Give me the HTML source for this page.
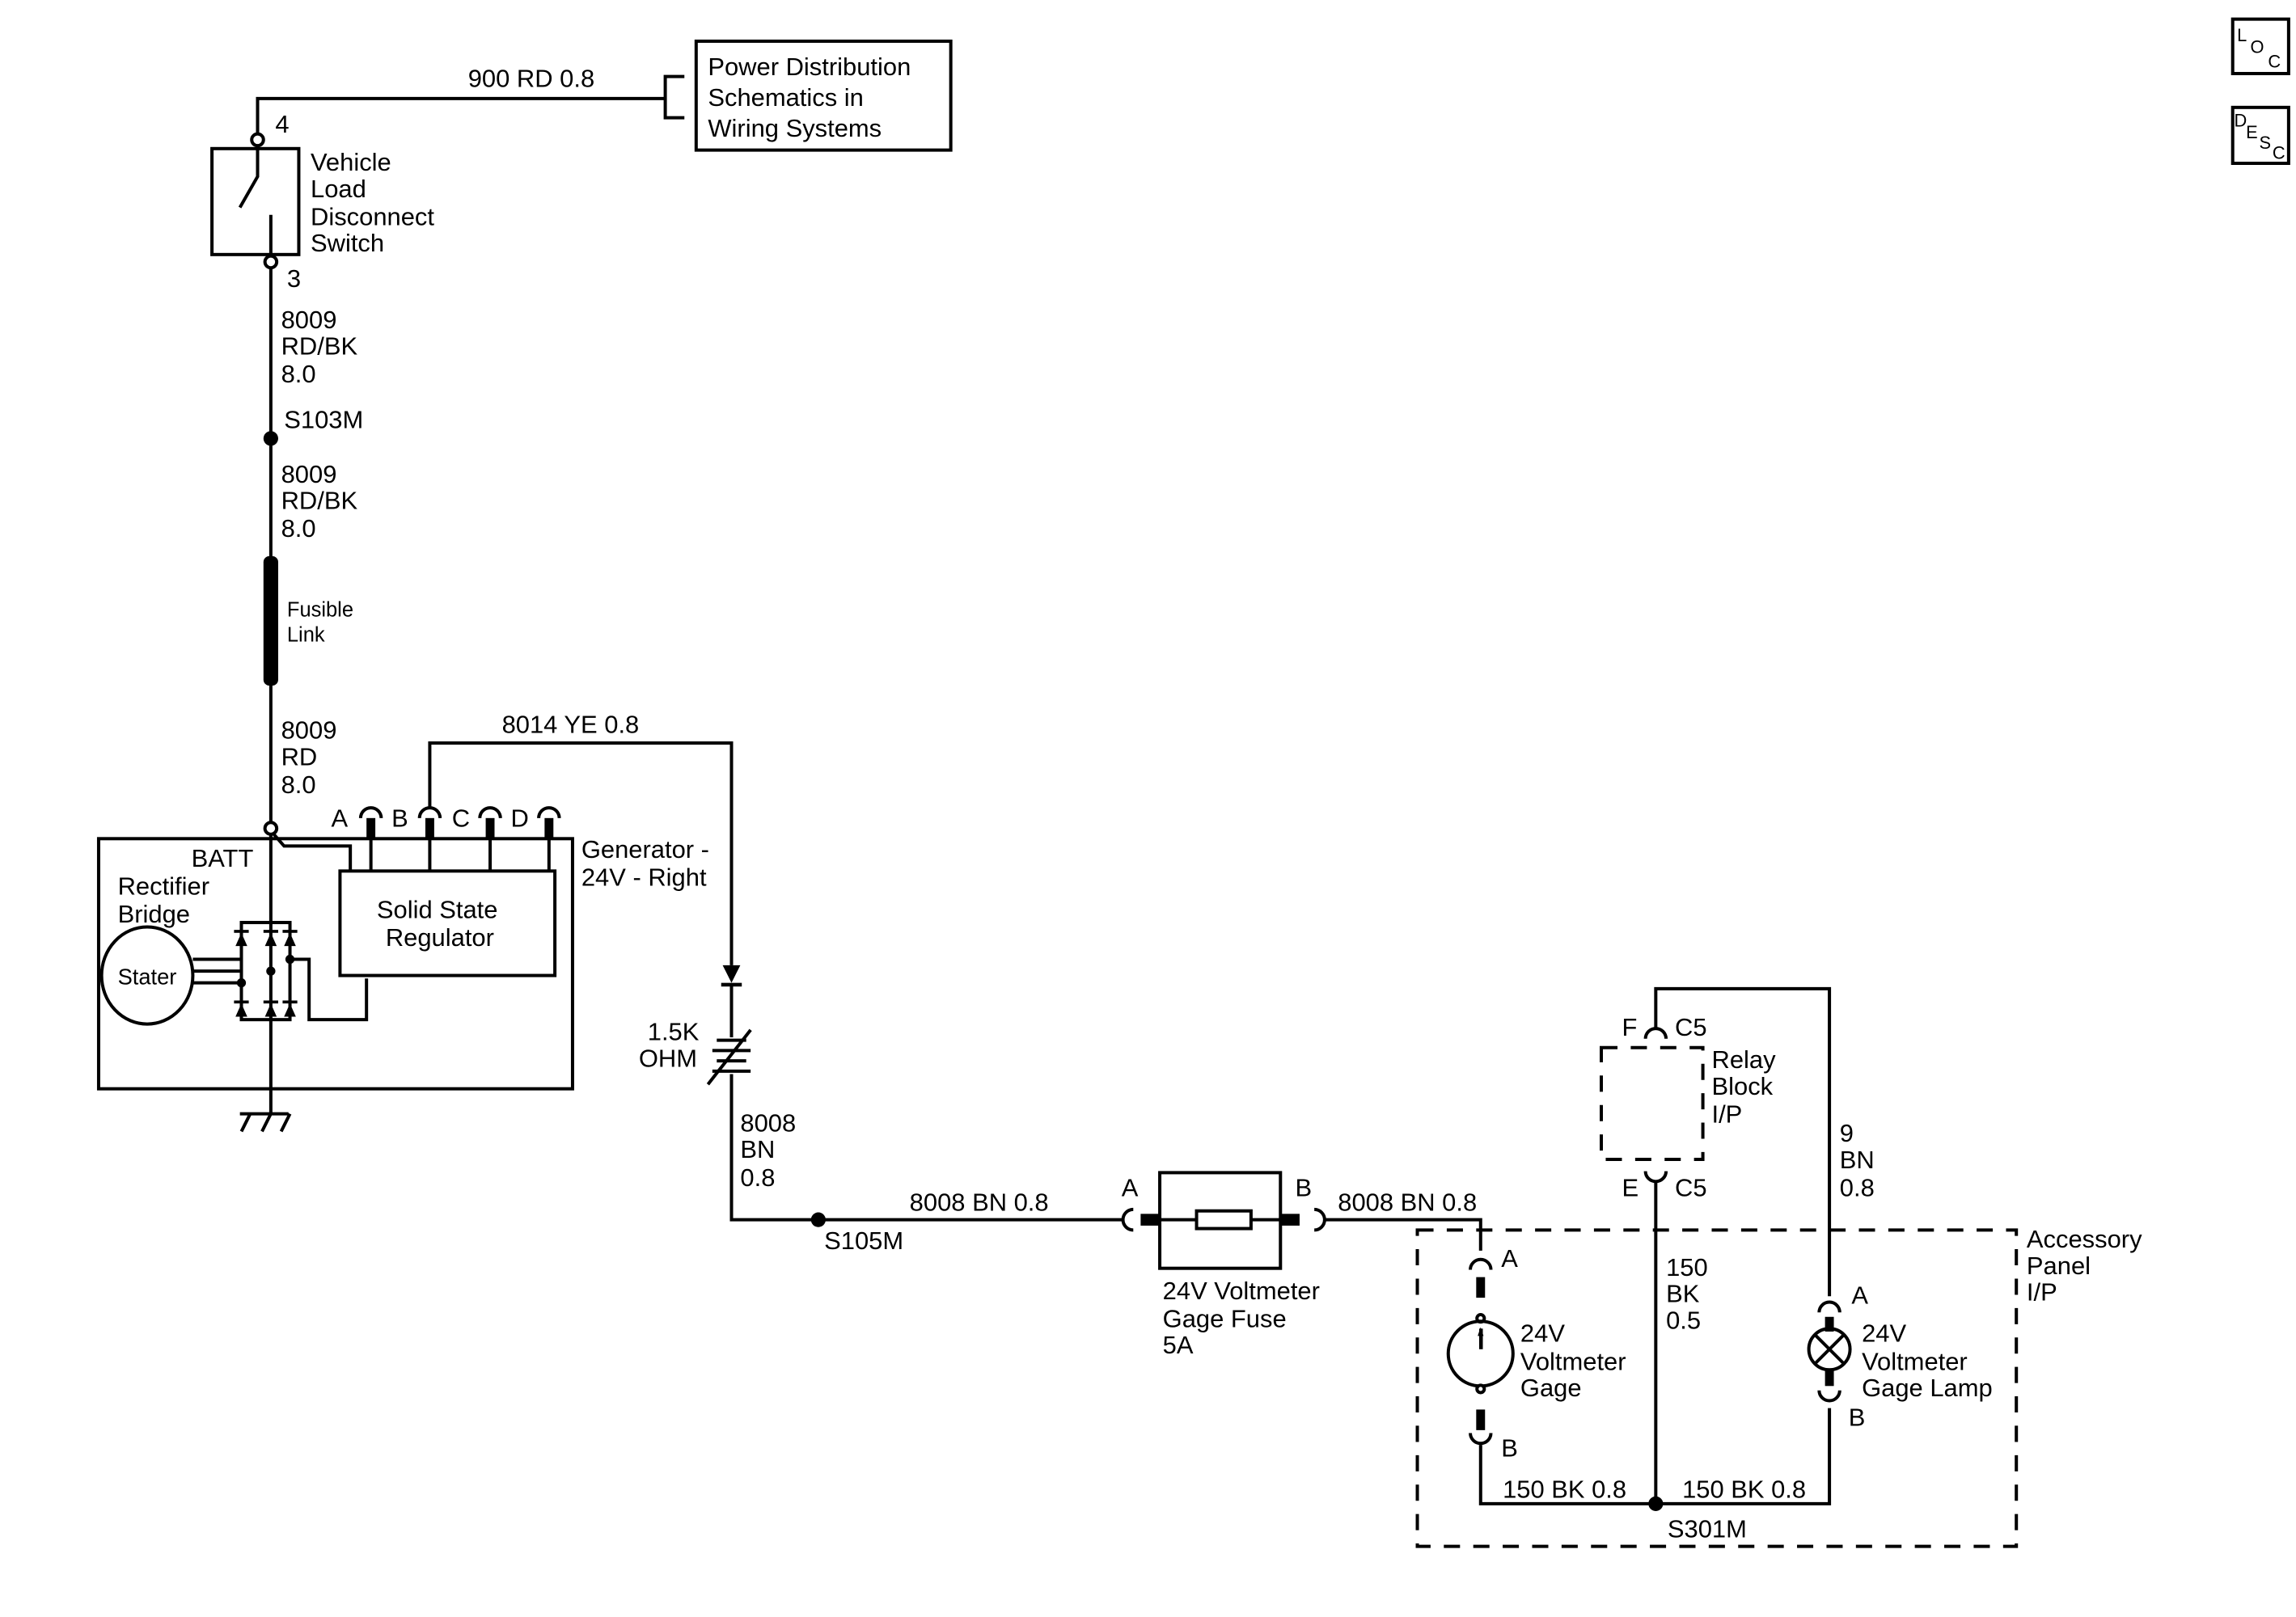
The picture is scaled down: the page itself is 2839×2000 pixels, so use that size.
<!DOCTYPE html>
<html><head><meta charset="utf-8"><style>
html,body{margin:0;padding:0;background:#fff}
svg{display:block}
text{font-family:"Liberation Sans",sans-serif;font-size:17px;fill:#000}
</style></head><body>
<svg width="2839" height="2000" viewBox="0 0 1560 1099" xmlns="http://www.w3.org/2000/svg">
<g fill="none" stroke="#000" stroke-width="2.2">
<!-- top wire -->
<polyline points="175,91 175,67 452,67"/>
<polyline points="465,52 452,52 452,80 465,80"/>
<rect x="473" y="28" width="173" height="74"/>
<!-- switch -->
<rect x="144" y="101" width="59" height="72"/>
<circle cx="175" cy="95" r="4" fill="#fff"/>
<polyline points="175,99 175,120 163,141"/>
<line x1="184" y1="146" x2="184" y2="174"/>
<circle cx="184" cy="178" r="4" fill="#fff"/>
<line x1="184" y1="182" x2="184" y2="559"/>
<circle cx="184" cy="563" r="4" fill="#fff"/>
<!-- generator -->
<rect x="67" y="570" width="322" height="170"/>
<line x1="184" y1="567" x2="184" y2="757"/>
<polyline points="186,567 193,575 238,575 238,592"/>
<rect x="231" y="592" width="146" height="71"/>
<line x1="252" y1="570" x2="252" y2="592"/>
<line x1="292" y1="570" x2="292" y2="592"/>
<line x1="333" y1="570" x2="333" y2="592"/>
<line x1="373" y1="570" x2="373" y2="592"/>
<path d="M245,556 a7,7 0 0 1 14,0"/>
<path d="M285,556 a7,7 0 0 1 14,0"/>
<path d="M326,556 a7,7 0 0 1 14,0"/>
<path d="M366,556 a7,7 0 0 1 14,0"/>
<polyline points="292,549 292,505 497,505 497,656"/>
<!-- rectifier -->
<rect x="164" y="627" width="33" height="66"/>
<polyline points="197,652 210,652 210,693 249,693 249,665"/>
<ellipse cx="100" cy="663" rx="31" ry="33"/>
<path d="M131,652 h33 M131,660 h33 M131,668 h33"/>
<circle cx="184" cy="660" r="2" fill="#000"/>
<circle cx="164" cy="668" r="2" fill="#000"/>
<circle cx="197" cy="652" r="2" fill="#000"/>
<!-- ground -->
<line x1="163" y1="757" x2="196" y2="757"/>
<path d="M170,757 l-6,12 M184,757 l-6,12 M197,757 l-6,12"/>
<!-- resistor -->
<line x1="497" y1="670" x2="497" y2="705"/>
<path d="M487,707 h20 M484,714 h26 M487,721 h20 M484,728 h26"/>
<line x1="481" y1="737" x2="510" y2="700"/>
<polyline points="497,730 497,829 763,829"/>
<path d="M770,822 a7,7 0 0 0 0,14"/>
<rect x="788" y="797" width="82" height="65"/>
<rect x="813" y="823" width="37" height="12"/>
<line x1="780" y1="829" x2="813" y2="829"/><line x1="850" y1="829" x2="880" y2="829"/>
<path d="M893,822 a7,7 0 0 1 0,14"/>
<polyline points="900,829 1006,829 1006,850"/>
<!-- accessory panel -->
<rect x="963" y="836" width="407" height="215" stroke-dasharray="11,9"/>
<rect x="1088" y="712" width="69" height="76" stroke-dasharray="11,9"/>
<path d="M999,863 a7,7 0 0 1 14,0"/>
<circle cx="1006" cy="896" r="2.5" fill="#fff"/>
<circle cx="1006" cy="920" r="22"/>
<circle cx="1006" cy="944" r="2.5" fill="#fff"/>
<path d="M999,974 a7,7 0 0 0 14,0"/>
<polyline points="1006,982 1006,1022 1243,1022 1243,957"/>
<path d="M1118,706 a7,7 0 0 1 14,0"/>
<polyline points="1125,699 1125,672 1243,672 1243,881"/>
<path d="M1118,796 a7,7 0 0 0 14,0"/>
<line x1="1125" y1="803" x2="1125" y2="1022"/>
<path d="M1236,892 a7,7 0 0 1 14,0"/>
<circle cx="1243" cy="917" r="14"/>
<path d="M1233,907 l20,20 M1253,907 l-20,20"/>
<path d="M1236,945 a7,7 0 0 0 14,0"/>
<!-- loc/desc -->
<rect x="1517" y="13" width="38" height="37"/>
<rect x="1517" y="73" width="38" height="38"/>
</g>
<g fill="#000">
<rect x="179" y="378" width="10" height="88" rx="4"/>
<rect x="249" y="556" width="6" height="14"/><rect x="289" y="556" width="6" height="14"/><rect x="330" y="556" width="6" height="14"/><rect x="370" y="556" width="6" height="14"/>
<rect x="775" y="825" width="13" height="8"/><rect x="870" y="825" width="13" height="8"/>
<rect x="1003" y="868" width="6" height="14"/><rect x="1003" y="904" width="2" height="0"/>
<rect x="1003" y="958" width="6" height="14"/>
<rect x="1240" y="895" width="6" height="10"/><rect x="1240" y="930" width="6" height="12"/>
<circle cx="184" cy="298" r="5"/><circle cx="556" cy="829" r="5"/><circle cx="1125" cy="1022" r="5"/>
<polygon points="491,656 503,656 497,668"/><rect x="490" y="668" width="14" height="2.5"/>
<polygon points="1004,908 1008,908 1006,902" /><rect x="1005" y="903" width="2.5" height="14"/>
<!-- rectifier diodes -->
<g>
<polygon points="160,643 168,643 164,634"/><polygon points="180,643 188,643 184,634"/><polygon points="193,643 201,643 197,634"/>
<polygon points="160,691 168,691 164,682"/><polygon points="180,691 188,691 184,682"/><polygon points="193,691 201,691 197,682"/>
<rect x="159" y="632" width="10" height="2"/><rect x="179" y="632" width="10" height="2"/><rect x="192" y="632" width="10" height="2"/>
<rect x="159" y="680" width="10" height="2"/><rect x="179" y="680" width="10" height="2"/><rect x="192" y="680" width="10" height="2"/>
</g>
</g>
<text x="318" y="59">900 RD 0.8</text>
<text x="481" y="51">Power Distribution</text>
<text x="481" y="72">Schematics in</text>
<text x="481" y="93">Wiring Systems</text>
<text x="187" y="90">4</text>
<text x="195" y="195">3</text>
<text x="211" y="116">Vehicle</text><text x="211" y="134">Load</text><text x="211" y="153">Disconnect</text><text x="211" y="171">Switch</text>
<text x="191" y="223">8009</text><text x="191" y="241">RD/BK</text><text x="191" y="260">8.0</text>
<text x="193" y="291">S103M</text>
<text x="191" y="328">8009</text><text x="191" y="346">RD/BK</text><text x="191" y="365">8.0</text>
<text x="195" y="419" style="font-size:14px">Fusible</text><text x="195" y="436" style="font-size:14px">Link</text>
<text x="191" y="502">8009</text><text x="191" y="520">RD</text><text x="191" y="539">8.0</text>
<text x="341" y="498">8014 YE 0.8</text>
<text x="225" y="562">A</text><text x="266" y="562">B</text><text x="307" y="562">C</text><text x="347" y="562">D</text>
<text x="130" y="589">BATT</text><text x="80" y="608">Rectifier</text><text x="80" y="627">Bridge</text>
<text x="80" y="669" style="font-size:15px">Stater</text>
<text x="256" y="624">Solid State</text><text x="262" y="643">Regulator</text>
<text x="395" y="583">Generator -</text><text x="395" y="602">24V - Right</text>
<text x="440" y="707">1.5K</text><text x="434" y="725">OHM</text>
<text x="503" y="769">8008</text><text x="503" y="787">BN</text><text x="503" y="806">0.8</text>
<text x="560" y="849">S105M</text>
<text x="618" y="823">8008 BN 0.8</text>
<text x="762" y="813">A</text><text x="880" y="813">B</text>
<text x="909" y="823">8008 BN 0.8</text>
<text x="790" y="883">24V Voltmeter</text><text x="790" y="902">Gage Fuse</text><text x="790" y="920">5A</text>
<text x="1102" y="704">F</text><text x="1138" y="704">C5</text>
<text x="1163" y="726">Relay</text><text x="1163" y="744">Block</text><text x="1163" y="763">I/P</text>
<text x="1102" y="813">E</text><text x="1138" y="813">C5</text>
<text x="1250" y="776">9</text><text x="1250" y="794">BN</text><text x="1250" y="813">0.8</text>
<text x="1377" y="848">Accessory</text><text x="1377" y="866">Panel</text><text x="1377" y="884">I/P</text>
<text x="1020" y="861">A</text>
<text x="1132" y="867">150</text><text x="1132" y="885">BK</text><text x="1132" y="903">0.5</text>
<text x="1258" y="886">A</text>
<text x="1033" y="912">24V</text><text x="1033" y="931">Voltmeter</text><text x="1033" y="949">Gage</text>
<text x="1265" y="912">24V</text><text x="1265" y="931">Voltmeter</text><text x="1265" y="949">Gage Lamp</text>
<text x="1020" y="990">B</text><text x="1256" y="969">B</text>
<text x="1021" y="1018">150 BK 0.8</text><text x="1143" y="1018">150 BK 0.8</text>
<text x="1133" y="1045">S301M</text>
<text x="1520" y="28" style="font-size:12px">L</text><text x="1529" y="36" style="font-size:12px">O</text><text x="1541" y="46" style="font-size:12px">C</text>
<text x="1518" y="86" style="font-size:12px">D</text><text x="1526" y="94" style="font-size:12px">E</text><text x="1535" y="101" style="font-size:12px">S</text><text x="1544" y="108" style="font-size:12px">C</text>
</svg>
</body></html>
